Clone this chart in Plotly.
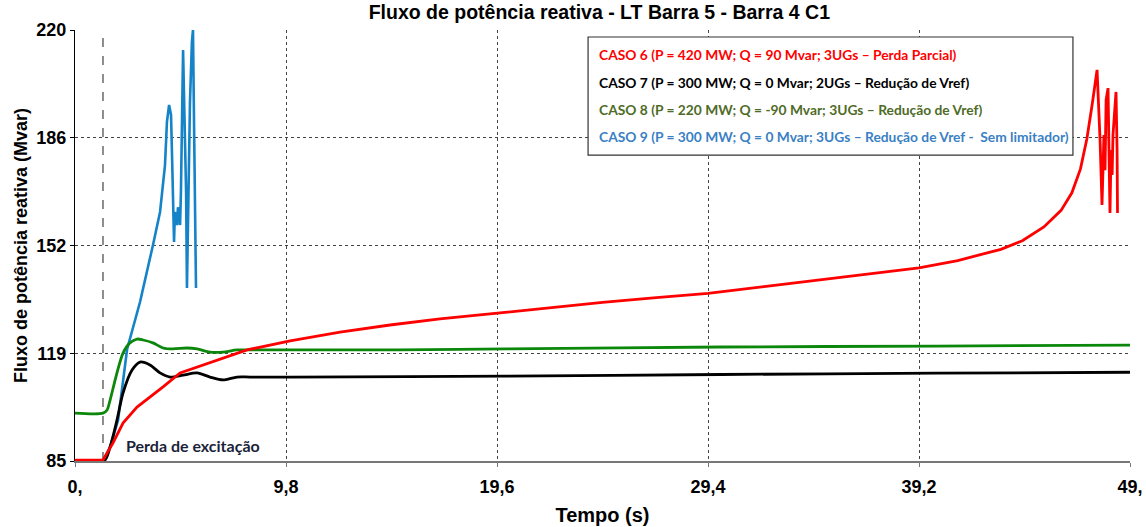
import plotly.graph_objects as go

# tempo (s) e fluxo (Mvar)
t_caso6 = [0, 1.30, 1.76, 2.23, 2.88, 3.48, 4.09, 4.88, 5.95, 6.87, 7.99, 9.99, 12.31, 14.63,
           16.95, 19.74, 22.0, 24.5, 27.0, 29.4, 32.0, 34.5, 37.0, 39.2, 41.0, 43.0, 44.0,
           45.0, 45.8, 46.3, 46.7, 47.0, 47.25, 47.4, 47.47, 47.61, 47.70, 47.79, 47.84, 47.89,
           47.98, 48.03, 48.07, 48.12, 48.17, 48.21, 48.31, 48.35, 48.40, 48.42]
q_caso6 = [85.3, 85.3, 90.6, 96.9, 101.9, 105.0, 108.2, 112.6, 115.1, 117.3, 119.8, 122.6, 125.4,
           127.6, 129.5, 131.4, 133.0, 134.7, 136.2, 137.5, 139.6, 141.6, 143.6, 145.5, 147.8,
           151.3, 154.0, 158.3, 163.5, 169.0, 176.5, 186.0, 197.0, 204.5, 207.5, 185.5, 165.2,
           187.1, 176.1, 198.1, 201.8, 179.3, 162.7, 182.4, 174.6, 187.1, 198.1, 200.6, 182.4,
           162.7]

t_caso7 = [0, 1.35, 1.63, 1.95, 2.23, 2.65, 3.02, 3.48, 3.95, 4.41, 5.02, 5.67, 6.27, 6.87,
           7.52, 8.13, 10, 20, 30, 40, 49]
q_caso7 = [85.0, 85.0, 89.4, 97.8, 106.3, 113.5, 116.0, 115.1, 112.6, 111.3, 111.9, 112.6, 111.3,
           110.4, 111.3, 111.3, 111.3, 111.6, 112.1, 112.5, 112.8]

t_caso8 = [0, 1.30, 1.49, 1.63, 1.95, 2.23, 2.55, 2.88, 3.16, 3.62, 4.09, 4.55, 5.2, 5.67, 6.27,
           6.87, 7.52, 8.13, 15, 20, 30, 40, 49]
q_caso8 = [100.0, 100.0, 101.0, 104.1, 112.6, 118.8, 122.0, 123.2, 122.9, 122.0, 120.4, 120.1,
           120.4, 120.1, 119.1, 119.1, 119.8, 119.8, 119.8, 120.1, 120.7, 121.0, 121.3]

t_caso9 = [0, 1.30, 1.63, 2.0, 2.42, 2.79, 3.02, 3.62, 3.95, 4.18, 4.27, 4.37, 4.46, 4.51, 4.55,
           4.60, 4.64, 4.74, 4.78, 4.88, 4.92, 4.97, 5.02, 5.06, 5.16, 5.20, 5.25, 5.34, 5.43,
           5.48, 5.53, 5.62]
q_caso9 = [85.0, 85.0, 89.4, 97.8, 120.0, 129.2, 134.8, 152.6, 163.0, 177.7, 191.2, 196.5, 193.4,
           179.9, 167.4, 153.6, 163.0, 158.9, 164.5, 158.9, 169.2, 200.6, 213.7, 200.6, 169.2,
           139.2, 158.9, 197.4, 216.2, 220.0, 190.2, 139.2]

x_ticks = [0, 9.8, 19.6, 29.4, 39.2, 49]
x_labels = ["0,", "9,8", "19,6", "29,4", "39,2", "49,"]
y_ticks = [85, 118.75, 152.5, 186.25, 220]
y_labels = ["85", "119", "152", "186", "220"]

legenda = [
    ("CASO 6 (P = 420 MW; Q = 90 Mvar; 3UGs \u2013 Perda Parcial)", "#ff0000"),
    ("CASO 7 (P = 300 MW; Q = 0 Mvar; 2UGs \u2013 Redução de Vref)", "#000000"),
    ("CASO 8 (P = 220 MW; Q = -90 Mvar; 3UGs \u2013 Redução de Vref)", "#4f6b28"),
    ("CASO 9 (P = 300 MW; Q = 0 Mvar; 3UGs \u2013 Redução de Vref -  Sem limitador)", "#3b7fc4"),
]

fig = go.Figure()

# linha vertical do evento
fig.add_shape(type="line", x0=1.3, x1=1.3, y0=85, y1=220, xref="x", yref="y",
              line=dict(color="#444444", width=1.2, dash="dash"), layer="below")

fig.add_trace(go.Scatter(x=t_caso9, y=q_caso9, mode="lines",
                         line=dict(color="#1483c8", width=2.6), showlegend=False))
fig.add_trace(go.Scatter(x=t_caso8, y=q_caso8, mode="lines",
                         line=dict(color="#0b870b", width=2.8, shape="spline", smoothing=0.8),
                         showlegend=False))
fig.add_trace(go.Scatter(x=t_caso7, y=q_caso7, mode="lines",
                         line=dict(color="#000000", width=2.8, shape="spline", smoothing=0.8),
                         showlegend=False))
fig.add_trace(go.Scatter(x=t_caso6, y=q_caso6, mode="lines",
                         line=dict(color="#ff0000", width=2.8), showlegend=False))

# caixa de legenda
fig.add_shape(type="rect", x0=23.83, x1=46.35, y0=180.8, y1=217.8, xref="x", yref="y",
              line=dict(color="#333333", width=1.2), fillcolor="white", layer="above")
legenda_y = [212.2, 203.6, 195.0, 186.6]
for (txt, cor), yy in zip(legenda, legenda_y):
    fig.add_annotation(x=24.25, y=yy, xref="x", yref="y", text="<b>" + txt + "</b>",
                       showarrow=False, xanchor="left", yanchor="middle",
                       font=dict(family="Lato", size=13.8, color=cor))

fig.add_annotation(x=2.28, y=90.0, xref="x", yref="y", text="<b>Perda de excitação</b>",
                   showarrow=False, xanchor="left", yanchor="middle",
                   font=dict(family="Lato", size=16, color="#1a1f3a"))

fig.update_layout(
    width=1146, height=527,
    margin=dict(l=75, r=16, t=30, b=66),
    plot_bgcolor="white", paper_bgcolor="white",
    font=dict(family="Liberation Sans", color="black"),
    title=dict(text="<b>Fluxo de potência reativa - LT Barra 5 - Barra 4 C1</b>",
               x=0.523, xanchor="center", y=0.977, yanchor="middle",
               font=dict(size=19.5, color="black")),
)
fig.update_xaxes(range=[0, 49], tickvals=x_ticks,
                 ticktext=["<b>" + s + "</b>" for s in x_labels],
                 tickfont=dict(size=18, family="Liberation Sans"),
                 showgrid=True, gridcolor="#444444", griddash="dot", gridwidth=1,
                 showline=True, linecolor="#777777", linewidth=2,
                 ticks="outside", ticklen=4, tickcolor="#777777", ticklabelstandoff=4,
                 zeroline=False, automargin=False,
                 title=dict(text="<b>Tempo (s)</b>", font=dict(size=20), standoff=12))
fig.update_yaxes(range=[85, 220], tickvals=y_ticks,
                 ticktext=["<b>" + s + "</b>" for s in y_labels],
                 tickfont=dict(size=18, family="Liberation Sans"),
                 showgrid=True, gridcolor="#444444", griddash="dot", gridwidth=1,
                 showline=True, linecolor="#000000", linewidth=1,
                 ticks="outside", ticklen=4, tickcolor="#000000",
                 zeroline=False, automargin=False,
                 title=dict(text="<b>Fluxo de potência reativa (Mvar)</b>", font=dict(size=18),
                            standoff=4))

fig.write_html("out.html", config={"displayModeBar": False},
               post_script="document.body.style.margin='0';")
